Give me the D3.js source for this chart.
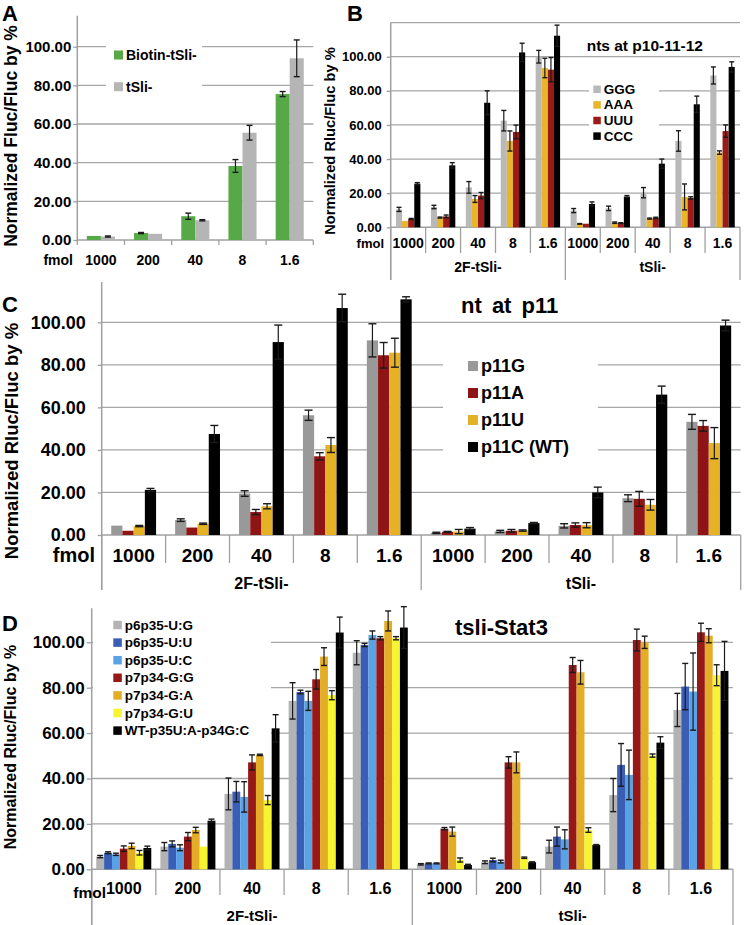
<!DOCTYPE html>
<html><head><meta charset="utf-8">
<script src="https://cdn.jsdelivr.net/npm/d3@7"></script>
<style>
body{margin:0;background:#fff}
svg{display:block}
text{font-family:"Liberation Sans",Arial,Helvetica,sans-serif;font-weight:bold;fill:#000}
</style>
</head><body>
<svg id="c" width="744" height="925"></svg>
<script>
// ---------- shared labels ----------
const fmolLabels = ["1000","200","40","8","1.6"];
const groupLabels = ["2F-tSli-","tSli-"];
const yTicks = [0,20,40,60,80,100];

// ---------- Panel A ----------
const aSeriesNames = ["Biotin-tSli-","tSli-"];
const aBiotin    = [2.1, 3.6, 12.3, 38.3, 75.5];
const aBiotinErr = [null, 0.3, 1.6, 3.3, 1.3];
const aTsli      = [1.8, 3.2, 10.2, 55.5, 94.0];
const aTsliErr   = [0.3, null, 0.3, 3.8, 9.5];

// ---------- Panel B ----------
const bSeriesNames = ["GGG","AAA","UUU","CCC"];
const bGGG  = [10.5, 11.9, 23.4, 62.5, 100.0,  9.8, 11.1, 20.3, 50.6, 89.0];
const bAAA  = [ 3.7,  5.7, 16.6, 50.6,  93.4,  2.0,  2.7,  5.1, 17.8, 43.8];
const bUUU  = [ 4.9,  6.4, 18.6, 55.9,  92.4,  2.1,  2.5,  5.5, 17.2, 56.4];
const bCCC  = [25.6, 36.3, 73.0,102.5, 112.3, 13.7, 18.0, 37.3, 72.1, 94.0];
const bGGGe = [1.2, 1.0, 3.4, 6.0, 3.7,  1.2, 1.3, 3.0, 6.0, 5.0];
const bAAAe = [null,0.3, 2.0, 5.9, 5.7,  0.2, 0.4, 0.3, 7.6, 1.0];
const bUUUe = [0.3, 0.8, 1.8, 4.0, 7.1,  null,0.2, 0.4, 0.7, 3.6];
const bCCCe = [0.6, 1.6, 7.0, 5.4, 6.2,  1.2, 0.6, 2.7, 4.8, 3.0];

// ---------- Panel C ----------
const cSeriesNames = ["p11G","p11A","p11U","p11C (WT)"];
const cG  = [4.4, 7.0, 19.5, 56.3, 91.5,  1.0, 1.7, 4.3, 17.3, 53.2];
const cA  = [2.0, 3.5, 10.8, 37.0, 84.5,  1.5, 2.0, 4.7, 17.0, 51.3];
const cU  = [4.2, 5.3, 13.5, 42.3, 85.7,  1.6, 2.1, 4.6, 14.2, 43.2];
const cC  = [21.2,47.5,90.7,106.7,110.8,  3.0, 5.6,20.0, 66.0, 98.5];
const cGe = [null,0.6, 1.3, 2.4, 7.8,  0.3, 0.5, 1.0, 1.6, 3.5];
const cAe = [null,null,1.2, 1.7, 6.0,  0.2, 0.6, 1.0, 3.5, 2.5];
const cUe = [0.3, 0.3, 1.2, 3.5, 6.8,  1.0, 0.3, 1.2, 2.5, 7.3];
const cCe = [0.7, 4.0, 8.0, 6.5, 1.2,  0.5, 0.3, 2.5, 4.0, 2.5];

// ---------- Panel D ----------
const dSeriesNames = ["p6p35-U:G","p6p35-U:U","p6p35-U:C","p7p34-G:G","p7p34-G:A","p7p34-G:U","WT-p35U:A-p34G:C"];
const dUG = [5.6, 10.0, 33.2, 74.2,  95.4,  2.2,  3.1, 10.0, 32.7, 70.2];
const dUU = [7.3, 11.2, 34.2, 78.1,  98.8,  2.6,  4.1, 14.4, 46.0, 80.5];
const dUC = [6.6,  9.5, 31.9, 74.2, 103.2,  2.6,  3.4, 13.2, 41.6, 78.3];
const dGG = [9.1, 14.4, 47.1, 83.7, 101.8, 17.9, 47.1, 90.0,101.0,104.4];
const dGA = [10.3,17.3, 50.4, 93.7, 109.4, 16.6, 47.1, 86.8,100.0,102.9];
const dGU = [7.3, 10.0, 30.5, 76.7, 101.8,  4.1,  5.1, 17.3, 50.1, 85.5];
const dWT = [9.4, 21.4, 62.1,104.3, 106.5,  1.9,  3.1, 10.7, 55.8, 87.4];
const dUGe = [0.5, 1.8, 7.0, 8.0, 5.3,  0.3, 0.6, 2.8, 7.3, 7.3];
const dUUe = [0.4, 1.3, 4.5, 0.8, 0.7,  0.2, 0.8, 4.2, 9.4,10.2];
const dUCe = [0.5, 1.3, 6.7, 4.2, 1.8,  0.2, 0.6, 4.2,10.9,17.0];
const dGGe = [1.2, 1.8, 3.3, 4.3, 0.7,  0.5, 2.5, 3.3, 4.8, 4.0];
const dGAe = [1.2, 1.2, 0.3, 3.9, 4.4,  2.0, 4.6, 5.2, 2.7, 3.1];
const dGUe = [1.0, null,2.0, 2.0, 0.7,  0.9, 0.3, 1.0, 0.7, 4.6];
const dWTe = [0.8, 0.7, 6.0, 6.8, 9.2,  0.3, 0.2, 0.2, 2.6,13.0];

const svg = d3.select("#c");
const GRID = "#a6a6a6", AXIS = "#a0a0a0", ERR = "#1a1a1a";

function panel(o){
  const g = svg.append("g");
  const y = d3.scaleLinear().domain([0,100]).range([o.y0, o.y100]);
  const groups = o.groups || [""];
  const cats = groups.flatMap((gr,gi)=>fmolLabels.map(f=>gi+"|"+f));
  const x = d3.scaleBand().domain(cats).range([o.xL, o.xR]).padding(0);
  const xs = d3.scaleBand().domain(o.series.map(s=>s.name))
      .range([0, x.bandwidth()]).paddingInner(0).paddingOuter(o.pOuter);

  // gridlines
  o.grid.forEach(v=>{
    g.append("line").attr("x1",o.xL).attr("x2",o.xR)
     .attr("y1",y(v)).attr("y2",y(v))
     .attr("stroke",GRID).attr("stroke-width",1.3);
  });
  // legend background (masks gridlines like original)
  if(o.legendBg){
    const b=o.legendBg;
    g.append("rect").attr("x",b[0]).attr("y",b[1]).attr("width",b[2]).attr("height",b[3]).attr("fill","#fff");
  }
  // y axis with labels
  const ax = d3.axisLeft(y).tickValues(yTicks).tickFormat(d3.format(".2f"))
      .tickSize(o.tickLen).tickPadding(o.tickPad);
  const ag = g.append("g").attr("transform",`translate(${o.xL},0)`).call(ax);
  ag.select(".domain").remove();
  ag.selectAll(".tick line").attr("stroke",AXIS).attr("stroke-width",1.3);
  ag.selectAll(".tick text").style("font-size",o.tickFont+"px").attr("fill","#000");
  // y axis line
  g.append("line").attr("x1",o.xL).attr("x2",o.xL).attr("y1",y(o.axisTop)).attr("y2",o.groupBottom)
    .attr("stroke",AXIS).attr("stroke-width",1.5);
  // x axis line
  g.append("line").attr("x1",o.xL).attr("x2",o.xR).attr("y1",o.y0).attr("y2",o.y0)
    .attr("stroke",AXIS).attr("stroke-width",1.5);

  // bars
  o.series.forEach(s=>{
    cats.forEach((c,i)=>{
      const v=s.values[i];
      g.append("rect").attr("x",x(c)+xs(s.name)).attr("width",xs.bandwidth())
        .attr("y",y(v)).attr("height",y(0)-y(v)).attr("fill",s.color);
    });
  });
  // error bars
  o.series.forEach(s=>{
    cats.forEach((c,i)=>{
      const e=s.err[i]; if(e==null) return;
      const v=s.values[i];
      const cx=x(c)+xs(s.name)+xs.bandwidth()/2;
      const hi=y(v+e), lo=y(Math.max(0,v-e));
      g.append("line").attr("x1",cx).attr("x2",cx).attr("y1",hi).attr("y2",lo)
        .attr("stroke",ERR).attr("stroke-width",1.2);
      [hi,lo].forEach(yy=>g.append("line").attr("x1",cx-o.cap).attr("x2",cx+o.cap)
        .attr("y1",yy).attr("y2",yy).attr("stroke",ERR).attr("stroke-width",1.4));
    });
  });

  // category ticks and labels
  const bounds = cats.map(c=>x(c)).concat([o.xR]);
  bounds.forEach((bx,i)=>{
    const isGroup = o.groups && (i % fmolLabels.length === 0);
    g.append("line").attr("x1",bx).attr("x2",bx).attr("y1",o.y0)
     .attr("y2", isGroup ? o.groupBottom : o.catTickBottom)
     .attr("stroke",AXIS).attr("stroke-width",1.3);
  });
  cats.forEach(c=>{
    g.append("text").attr("x",x(c)+x.bandwidth()/2).attr("y",o.catLabelY)
     .attr("text-anchor","middle").attr("dominant-baseline","central")
     .style("font-size",o.catFont+"px").text(c.split("|")[1]);
  });
  g.append("text").attr("x",o.fmolX).attr("y",o.fmolY).attr("text-anchor","end")
   .attr("dominant-baseline","central").style("font-size",o.fmolFont+"px").text("fmol");
  if(o.groups){
    groups.forEach((gr,gi)=>{
      const a=x(gi+"|"+fmolLabels[0]), b=x(gi+"|"+fmolLabels[fmolLabels.length-1])+x.bandwidth();
      g.append("text").attr("x",(a+b)/2).attr("y",o.groupLabelY).attr("text-anchor","middle")
       .attr("dominant-baseline","central").style("font-size",o.groupFont+"px").text(gr);
    });
  }
  // y title
  g.append("text").attr("transform",`translate(${o.titleX},${o.titleY}) rotate(-90)`)
   .attr("text-anchor","middle").attr("dominant-baseline","central")
   .style("font-size",o.titleFont+"px").text(o.yTitle);
  // panel letter
  g.append("text").attr("x",o.letter[1]).attr("y",o.letter[2]).style("font-size","22px").text(o.letter[0]);
  // chart title
  if(o.chartTitle){
    g.append("text").attr("x",o.chartTitle[1]).attr("y",o.chartTitle[2]).attr("dominant-baseline","central")
     .style("font-size",o.chartTitle[3]+"px").style("word-spacing",(o.chartTitle[4]||0)+"px").text(o.chartTitle[0]);
  }
  // legend
  const L=o.legend;
  o.series.forEach((s,i)=>{
    const ly=L.y+i*L.dy;
    g.append("rect").attr("x",L.x).attr("y",ly-L.sw/2).attr("width",L.sw).attr("height",L.sw).attr("fill",s.color);
    g.append("text").attr("x",L.x+L.sw+L.gap).attr("y",ly).attr("dominant-baseline","central")
     .style("font-size",L.font+"px").text(s.name);
  });
}

// Panel A
panel({
  xL:77.3, xR:313.3, y0:240, y100:46.7, axisTop:116, pOuter:0.68,
  grid:[20,40,60,80,100], legendBg:[106,36,96,64],
  tickLen:4, tickPad:2, tickFont:15,
  groupBottom:240, catTickBottom:245,
  catLabelY:260, catFont:14, fmolX:73, fmolY:260, fmolFont:14,
  titleX:11, titleY:136, titleFont:17.5, yTitle:"Normalized Fluc/Fluc by %",
  letter:["A",2,21], cap:3,
  legend:{x:114, y:55, dy:31.7, sw:9, gap:3, font:14},
  series:[
    {name:aSeriesNames[0], color:"#56a946", values:aBiotin, err:aBiotinErr},
    {name:aSeriesNames[1], color:"#b5b5b5", values:aTsli, err:aTsliErr}
  ]
});

// Panel B
panel({
  xL:390.7, xR:740, y0:227.3, y100:56.7, axisTop:120, pOuter:0.86,
  grid:[20,40,60,80,100,120], legendBg:[589,79,70,66],
  groups:groupLabels,
  tickLen:4, tickPad:5, tickFont:13,
  groupBottom:280, catTickBottom:253,
  catLabelY:243, catFont:14, fmolX:384, fmolY:243, fmolFont:13,
  groupLabelY:267, groupFont:14,
  titleX:330, titleY:141, titleFont:14.7, yTitle:"Normalized Rluc/Fluc by %",
  letter:["B",347,21], cap:2.5,
  chartTitle:["nts at p10-11-12",586.7,45,15.5],
  legend:{x:593.3, y:89.3, dy:15.6, sw:7.5, gap:3, font:13.5},
  series:[
    {name:bSeriesNames[0], color:"#b9b9b9", values:bGGG, err:bGGGe},
    {name:bSeriesNames[1], color:"#e8b52b", values:bAAA, err:bAAAe},
    {name:bSeriesNames[2], color:"#9a1a1a", values:bUUU, err:bUUUe},
    {name:bSeriesNames[3], color:"#000000", values:bCCC, err:bCCCe}
  ]
});

// Panel C
panel({
  xL:101.7, xR:740.7, y0:535, y100:322.3, axisTop:119, pOuter:0.85,
  grid:[20,40,60,80,100], legendBg:[443,338,155,140],
  groups:groupLabels,
  tickLen:4, tickPad:12, tickFont:18,
  groupBottom:590, catTickBottom:563,
  catLabelY:555, catFont:19, fmolX:95, fmolY:555, fmolFont:20,
  groupLabelY:583, groupFont:16,
  titleX:11, titleY:441, titleFont:18.5, yTitle:"Normalized Rluc/Fluc by %",
  letter:["C",2,312], cap:4,
  chartTitle:["nt at p11",461,305,22,4],
  legend:{x:468, y:366, dy:27, sw:10, gap:3, font:18},
  series:[
    {name:cSeriesNames[0], color:"#999999", values:cG, err:cGe},
    {name:cSeriesNames[1], color:"#8f1416", values:cA, err:cAe},
    {name:cSeriesNames[2], color:"#e5b125", values:cU, err:cUe},
    {name:cSeriesNames[3], color:"#000000", values:cC, err:cCe}
  ]
});

// Panel D
panel({
  xL:91.7, xR:733, y0:869.3, y100:642.3, axisTop:115, pOuter:0.58,
  grid:[20,40,60,80,100], legendBg:[93,606,178,140],
  groups:groupLabels,
  tickLen:5, tickPad:2, tickFont:17,
  groupBottom:925, catTickBottom:895,
  catLabelY:888, catFont:16, fmolX:106, fmolY:892, fmolFont:15.5,
  groupLabelY:915, groupFont:15,
  titleX:10, titleY:747, titleFont:16, yTitle:"Normalized Rluc/Fluc by %",
  letter:["D",2,631], cap:3,
  chartTitle:["tsli-Stat3",455,627,22],
  legend:{x:113.3, y:625, dy:17.6, sw:8.5, gap:3, font:13.5},
  series:[
    {name:dSeriesNames[0], color:"#b3b3b3", values:dUG, err:dUGe},
    {name:dSeriesNames[1], color:"#3a5db5", values:dUU, err:dUUe},
    {name:dSeriesNames[2], color:"#5aa2e6", values:dUC, err:dUCe},
    {name:dSeriesNames[3], color:"#971818", values:dGG, err:dGGe},
    {name:dSeriesNames[4], color:"#e4ad26", values:dGA, err:dGAe},
    {name:dSeriesNames[5], color:"#f7f532", values:dGU, err:dGUe},
    {name:dSeriesNames[6], color:"#000000", values:dWT, err:dWTe}
  ]
});
</script>
</body></html>
